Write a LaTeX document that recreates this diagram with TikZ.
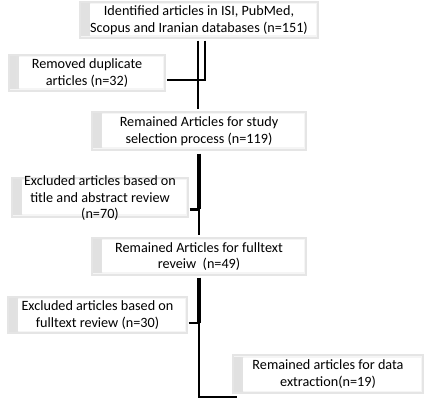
\documentclass[tikz,border=0pt]{standalone}
\usepackage{fontspec}
\setmainfont{Carlito}
\tikzset{
  box/.style={draw=gray!20, line width=1.2pt, fill=gray!8, inner sep=0pt,
    align=center, text=black, font=\fontsize{14.2}{16.5}\selectfont,
    path picture={
      \shade[left color=gray!24, right color=gray!3]
        ([yshift=2pt]path picture bounding box.south west) rectangle
        ([xshift=10pt,yshift=-2pt]path picture bounding box.north west);
      \fill[white] ([xshift=10pt,yshift=2.5pt]path picture bounding box.south west) rectangle
        ([xshift=-2.5pt,yshift=-2.5pt]path picture bounding box.north east);
    }},
  lbl/.style={align=center, text=black, inner sep=0pt, font=\fontsize{14.2}{16.5}\selectfont},
  thinln/.style={line width=2pt, black},
  thickln/.style={line width=4pt, black},
  tickln/.style={line width=2.5pt, black},
}
\begin{document}
\begin{tikzpicture}[x=1pt,y=-1pt]
\useasboundingbox (0,0) rectangle (424,404);
\node[box, minimum width=238pt, minimum height=36pt] (b1) at (199,20)
  {Identified articles in ISI, PubMed,\\Scopus and Iranian databases (n=151)};
\node[box, minimum width=156pt, minimum height=36pt] (b2) at (87,73)
  {Removed duplicate\\articles (n=32)};
\node[box, minimum width=214pt, minimum height=38pt] (b3) at (199,131)
  {Remained Articles for study\\selection process (n=119)};
\node[box, minimum width=176pt, minimum height=39pt] (b4) at (100,197.5) {};
\node[lbl] (b4t) at (100,198.5)
  {Excluded articles based on\\title and abstract review\\(n=70)};
\node[box, minimum width=214pt, minimum height=37pt] (b5) at (199,256.5)
  {Remained Articles for fulltext\\reveiw\ \ (n=49)};
\node[box, minimum width=179pt, minimum height=36pt] (b6) at (97.5,315)
  {Excluded articles based on\\fulltext review (n=30)};
\node[box, minimum width=190pt, minimum height=38pt] (b7) at (328,374)
  {Remained articles for data\\extraction(n=19)};

\coordinate (xa) at (198,0);
\coordinate (xb) at (205,0);
\coordinate (xc) at (199,0);
\coordinate (ya) at (0,80);
\coordinate (yb) at (0,209.5);
\coordinate (yc) at (0,323);
\coordinate (yd) at (0,397);

% first junction
\draw[thinln] ([yshift=-2pt]b1.south -| xa) -- ([yshift=2pt]b3.north -| xa);
\draw[thinln] ([yshift=-2pt]b1.south -| xb) -- (xb |- ya) -- ([xshift=1pt]b2.east |- ya);
% second junction
\draw[thickln] ([yshift=-3pt]b3.south -| xc) -- (xc |- yb);
\draw[thinln] (xc |- yb) -- ([yshift=2pt]b5.north -| xc);
\draw[tickln] ([xshift=1pt]b4.east |- yb) -- ([xshift=1pt]xc |- yb);
% third junction
\draw[thickln] ([yshift=-2pt]b5.south -| xc) -- (xc |- yc);
\draw[tickln] ([xshift=1pt]b6.east |- yc) -- ([xshift=1pt]xc |- yc);
\draw[thinln] (xc |- yc) -- (xc |- yd) -- ([xshift=5pt]b7.west |- yd);
\end{tikzpicture}
\end{document}
